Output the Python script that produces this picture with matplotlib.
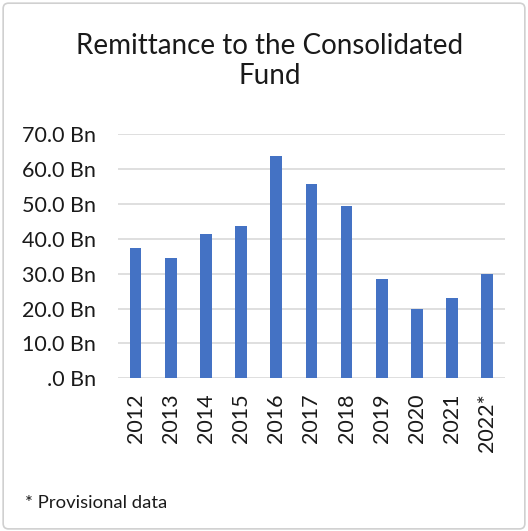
import matplotlib
matplotlib.use("Agg")
import matplotlib.pyplot as plt
from matplotlib.patches import FancyBboxPatch

years = ["2012", "2013", "2014", "2015", "2016", "2017", "2018", "2019", "2020", "2021", "2022*"]
values = [37.4, 34.5, 41.3, 43.6, 63.9, 55.8, 49.5, 28.6, 19.8, 23.1, 29.9]
yticks = [0, 10, 20, 30, 40, 50, 60, 70]
ytick_labels = [".0 Bn", "10.0 Bn", "20.0 Bn", "30.0 Bn", "40.0 Bn", "50.0 Bn", "60.0 Bn", "70.0 Bn"]

plt.rcParams['font.family'] = ['Lato', 'DejaVu Sans']

fig = plt.figure(figsize=(5.28, 5.31), dpi=100)
ax = fig.add_axes([0.2235, 0.2876, 0.956 - 0.2235, 0.747 - 0.2876])

x = range(len(years))
ax.bar(x, values, width=0.33, color="#4472C4", zorder=3)
ax.set_xlim(-0.5, len(years) - 0.5)
ax.set_ylim(0, 70)
ax.set_yticks(yticks)
ax.set_yticklabels(ytick_labels, fontsize=15.5, color="#1a1a1a")
ax.set_xticks(list(x))
ax.set_xticklabels(years, rotation=90, fontsize=15.5, color="#1a1a1a")
ax.tick_params(axis='x', length=0, pad=11)
ax.tick_params(axis='y', length=0, pad=16)
ax.grid(axis='y', color="#D9D9D9", linewidth=1.2, zorder=0)
for s in ax.spines.values():
    s.set_visible(False)

fig.text(0.511, 1 - 54 / 531, "Remittance to the Consolidated", ha="center", va="baseline",
         fontsize=20, color="#1a1a1a")
fig.text(0.511, 1 - 84 / 531, "Fund", ha="center", va="baseline",
         fontsize=20, color="#1a1a1a")
fig.text(0.047, 1 - 508 / 531, "* Provisional data", ha="left", va="baseline", fontsize=13.3,
         color="#1a1a1a")

border = FancyBboxPatch((0.006, 0.004), 0.988, 0.99, boxstyle="round,pad=0,rounding_size=0.01",
                        transform=fig.transFigure, fill=False, edgecolor="#D0D0D0", linewidth=1.2)
fig.patches.append(border)

fig.savefig("out.png", dpi=100)
